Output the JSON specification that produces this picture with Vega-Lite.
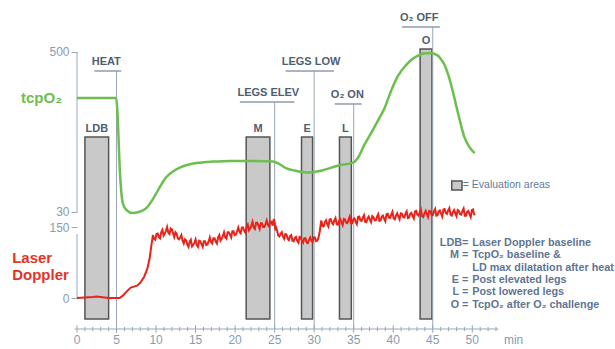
{
  "$schema": "https://vega.github.io/schema/vega-lite/v6.json",
  "width": 419,
  "height": 319,
  "autosize": {"type": "none"},
  "padding": {"left": 77, "top": 10, "right": 119, "bottom": 20},
  "background": "white",
  "config": {"view": {"stroke": null}, "font": "Liberation Sans", "axis": {"grid": false}},
  "datasets": {
    "tcp": [
      {"t":0,"v":365},{"t":4.95,"v":365},{"t":5.1,"v":330},{"t":5.25,"v":250},{"t":5.4,"v":160},{"t":5.6,"v":90},{"t":5.8,"v":55},{"t":6.3,"v":35},{"t":7.0,"v":27},{"t":7.8,"v":30},{"t":8.8,"v":42},{"t":9.6,"v":68},{"t":10.4,"v":100},{"t":11.2,"v":130},{"t":12.1,"v":148},{"t":13.0,"v":160},{"t":13.9,"v":168},{"t":15.5,"v":175},{"t":17.2,"v":178},{"t":19.5,"v":180},{"t":22,"v":180},{"t":24.8,"v":178},{"t":25.5,"v":172},{"t":26.5,"v":158},{"t":27.5,"v":152},{"t":29.4,"v":146},{"t":31,"v":152},{"t":33,"v":166},{"t":35,"v":176},{"t":35.5,"v":188},{"t":36.3,"v":225},{"t":37.2,"v":262},{"t":38.1,"v":300},{"t":38.9,"v":335},{"t":39.8,"v":390},{"t":40.6,"v":430},{"t":41.5,"v":458},{"t":42.3,"v":477},{"t":43.2,"v":490},{"t":44.0,"v":496},{"t":44.8,"v":496},{"t":45.6,"v":490},{"t":46.0,"v":480},{"t":46.5,"v":462},{"t":47.0,"v":430},{"t":47.4,"v":397},{"t":48.2,"v":320},{"t":49.0,"v":250},{"t":49.6,"v":222},{"t":50.3,"v":203}
    ],
    "ld": [
      {"t":0,"v":0},{"t":1,"v":1},{"t":2,"v":2},{"t":2.5,"v":3},{"t":3,"v":2},{"t":4,"v":0},{"t":5,"v":0},{"t":5.4,"v":0},{"t":5.8,"v":5},{"t":6.3,"v":14},{"t":6.8,"v":22},{"t":7.2,"v":24},{"t":7.6,"v":26},{"t":8.0,"v":32},{"t":8.5,"v":45},{"t":8.9,"v":62},{"t":9.2,"v":85},{"t":9.4,"v":110},
      {"t":9.6,"v":133},{"t":9.75,"v":125},{"t":9.9,"v":123},{"t":10.05,"v":135},{"t":10.2,"v":136},{"t":10.35,"v":129},{"t":10.5,"v":126},{"t":10.65,"v":139},{"t":10.8,"v":144},{"t":10.95,"v":132},{"t":11.1,"v":136},{"t":11.25,"v":142},{"t":11.4,"v":150},{"t":11.55,"v":138},{"t":11.7,"v":135},{"t":11.85,"v":147},{"t":12.0,"v":145},{"t":12.15,"v":137},{"t":12.3,"v":129},{"t":12.45,"v":139},{"t":12.6,"v":136},{"t":12.75,"v":126},{"t":12.9,"v":124},{"t":13.05,"v":128},{"t":13.2,"v":133},{"t":13.35,"v":121},{"t":13.5,"v":115},{"t":13.65,"v":124},{"t":13.8,"v":122},{"t":13.95,"v":113},{"t":14.1,"v":108},{"t":14.25,"v":119},{"t":14.4,"v":123},{"t":14.55,"v":109},{"t":14.7,"v":112},{"t":14.85,"v":117},{"t":15.0,"v":124},{"t":15.15,"v":112},{"t":15.3,"v":108},{"t":15.45,"v":121},{"t":15.6,"v":120},{"t":15.75,"v":114},{"t":15.9,"v":108},{"t":16.05,"v":120},{"t":16.2,"v":120},{"t":16.35,"v":112},{"t":16.5,"v":113},{"t":16.65,"v":120},{"t":16.8,"v":128},{"t":16.95,"v":118},{"t":17.1,"v":115},{"t":17.25,"v":126},{"t":17.4,"v":126},{"t":17.55,"v":119},{"t":17.7,"v":115},{"t":17.85,"v":128},{"t":18.0,"v":133},{"t":18.15,"v":121},{"t":18.3,"v":125},{"t":18.45,"v":131},{"t":18.6,"v":139},{"t":18.75,"v":128},{"t":18.9,"v":125},{"t":19.05,"v":139},{"t":19.2,"v":139},{"t":19.35,"v":134},{"t":19.5,"v":128},{"t":19.65,"v":141},{"t":19.8,"v":141},{"t":19.95,"v":133},{"t":20.1,"v":134},{"t":20.25,"v":141},{"t":20.4,"v":149},{"t":20.55,"v":140},{"t":20.7,"v":137},{"t":20.85,"v":149},{"t":21.0,"v":149},{"t":21.15,"v":142},{"t":21.3,"v":138},{"t":21.45,"v":150},{"t":21.6,"v":155},{"t":21.75,"v":143},{"t":21.9,"v":147},{"t":22.05,"v":153},{"t":22.2,"v":161},{"t":22.35,"v":149},{"t":22.5,"v":146},{"t":22.65,"v":159},{"t":22.8,"v":159},{"t":22.95,"v":153},{"t":23.1,"v":146},{"t":23.25,"v":158},{"t":23.4,"v":158},{"t":23.55,"v":150},{"t":23.7,"v":150},{"t":23.85,"v":156},{"t":24.0,"v":164},{"t":24.15,"v":154},{"t":24.3,"v":151},{"t":24.45,"v":162},{"t":24.6,"v":161},{"t":24.75,"v":153},{"t":24.9,"v":167},{"t":25.0,"v":160},{"t":25.1,"v":143},{"t":25.2,"v":148},{"t":25.3,"v":143},{"t":25.45,"v":132},{"t":25.6,"v":130},{"t":25.75,"v":135},{"t":25.9,"v":139},{"t":26.05,"v":130},{"t":26.2,"v":125},{"t":26.35,"v":135},{"t":26.5,"v":134},{"t":26.65,"v":125},{"t":26.8,"v":122},{"t":26.95,"v":131},{"t":27.1,"v":133},{"t":27.25,"v":121},{"t":27.4,"v":120},{"t":27.55,"v":127},{"t":27.7,"v":129},{"t":27.85,"v":121},{"t":28.0,"v":117},{"t":28.15,"v":129},{"t":28.3,"v":128},{"t":28.45,"v":121},{"t":28.6,"v":117},{"t":28.75,"v":126},{"t":28.9,"v":126},{"t":29.05,"v":117},{"t":29.2,"v":116},{"t":29.35,"v":123},{"t":29.5,"v":128},{"t":29.65,"v":121},{"t":29.8,"v":118},{"t":29.95,"v":128},{"t":30.1,"v":128},{"t":30.25,"v":120},{"t":30.4,"v":121},{"t":30.55,"v":128},{"t":30.7,"v":140},{"t":30.8,"v":152},{"t":30.9,"v":164},{"t":31.05,"v":152},{"t":31.2,"v":151},{"t":31.35,"v":160},{"t":31.5,"v":164},{"t":31.65,"v":156},{"t":31.8,"v":151},{"t":31.95,"v":166},{"t":32.1,"v":167},{"t":32.25,"v":159},{"t":32.4,"v":156},{"t":32.55,"v":164},{"t":32.7,"v":169},{"t":32.85,"v":156},{"t":33.0,"v":155},{"t":33.15,"v":163},{"t":33.3,"v":167},{"t":33.45,"v":160},{"t":33.6,"v":154},{"t":33.75,"v":167},{"t":33.9,"v":166},{"t":34.05,"v":159},{"t":34.2,"v":158},{"t":34.35,"v":166},{"t":34.5,"v":172},{"t":34.65,"v":158},{"t":34.8,"v":158},{"t":34.95,"v":166},{"t":35.1,"v":168},{"t":35.25,"v":161},{"t":35.4,"v":156},{"t":35.55,"v":171},{"t":35.7,"v":172},{"t":35.85,"v":164},{"t":36.0,"v":163},{"t":36.15,"v":170},{"t":36.3,"v":175},{"t":36.45,"v":161},{"t":36.6,"v":160},{"t":36.75,"v":168},{"t":36.9,"v":172},{"t":37.05,"v":165},{"t":37.2,"v":160},{"t":37.35,"v":173},{"t":37.5,"v":171},{"t":37.65,"v":164},{"t":37.8,"v":164},{"t":37.95,"v":172},{"t":38.1,"v":177},{"t":38.25,"v":163},{"t":38.4,"v":164},{"t":38.55,"v":172},{"t":38.7,"v":174},{"t":38.85,"v":167},{"t":39.0,"v":162},{"t":39.15,"v":177},{"t":39.3,"v":178},{"t":39.45,"v":170},{"t":39.6,"v":169},{"t":39.75,"v":176},{"t":39.9,"v":182},{"t":40.05,"v":168},{"t":40.2,"v":166},{"t":40.35,"v":174},{"t":40.5,"v":179},{"t":40.65,"v":172},{"t":40.8,"v":166},{"t":40.95,"v":179},{"t":41.1,"v":178},{"t":41.25,"v":171},{"t":41.4,"v":170},{"t":41.55,"v":178},{"t":41.7,"v":183},{"t":41.85,"v":169},{"t":42.0,"v":170},{"t":42.15,"v":178},{"t":42.3,"v":180},{"t":42.45,"v":173},{"t":42.6,"v":168},{"t":42.75,"v":183},{"t":42.9,"v":184},{"t":43.05,"v":176},{"t":43.2,"v":174},{"t":43.35,"v":181},{"t":43.5,"v":187},{"t":43.65,"v":173},{"t":43.8,"v":171},{"t":43.95,"v":179},{"t":44.1,"v":184},{"t":44.25,"v":177},{"t":44.4,"v":171},{"t":44.55,"v":184},{"t":44.7,"v":183},{"t":44.85,"v":176},{"t":45.0,"v":175},{"t":45.15,"v":183},{"t":45.3,"v":188},{"t":45.45,"v":174},{"t":45.6,"v":175},{"t":45.75,"v":183},{"t":45.9,"v":185},{"t":46.05,"v":178},{"t":46.2,"v":172},{"t":46.35,"v":187},{"t":46.5,"v":188},{"t":46.65,"v":180},{"t":46.8,"v":178},{"t":46.95,"v":185},{"t":47.1,"v":190},{"t":47.25,"v":176},{"t":47.4,"v":174},{"t":47.55,"v":182},{"t":47.7,"v":186},{"t":47.85,"v":179},{"t":48.0,"v":173},{"t":48.15,"v":186},{"t":48.3,"v":184},{"t":48.45,"v":177},{"t":48.6,"v":176},{"t":48.75,"v":184},{"t":48.9,"v":189},{"t":49.05,"v":174},{"t":49.2,"v":174},{"t":49.35,"v":182},{"t":49.5,"v":184},{"t":49.65,"v":177},{"t":49.8,"v":171},{"t":49.95,"v":186},{"t":50.1,"v":187},{"t":50.2,"v":178},{"t":50.3,"v":175}
    ],
    "bars": [
      {"name":"LDB","t1":1,"t2":4,"mid":2.5,"top":340},
      {"name":"M","t1":21.4,"t2":24.4,"mid":22.9,"top":340},
      {"name":"E","t1":28.4,"t2":29.8,"mid":29.1,"top":340},
      {"name":"L","t1":33.2,"t2":34.7,"mid":33.95,"top":340},
      {"name":"O","t1":43.4,"t2":44.9,"mid":44.15,"top":526}
    ],
    "events": [
      {"name":"HEAT","t":5,"uy":479.6,"u1":2.2,"u2":5.6,"lx":3.7},
      {"name":"LEGS ELEV","t":25,"uy":414.1,"u1":20.6,"u2":27.5,"lx":24.2},
      {"name":"LEGS LOW","t":30,"uy":479.6,"u1":26.4,"u2":32.5,"lx":29.6},
      {"name":"O₂ ON","t":35,"uy":409.9,"u1":32.6,"u2":36.0,"lx":34.2},
      {"name":"O₂ OFF","t":45,"uy":572.5,"u1":41.1,"u2":45.9,"lx":43.3}
    ],
    "legend": [
      {"key":"LDB=","desc":"Laser Doppler baseline","v":116.2},
      {"key":"M =","desc":"TcpO₂ baseline &","v":90.8},
      {"key":"","desc":"LD max dilatation after heat","v":63.4},
      {"key":"E =","desc":"Post elevated legs","v":38},
      {"key":"L =","desc":"Post lowered legs","v":12.7},
      {"key":"O =","desc":"TcpO₂ after O₂ challenge","v":-14.8}
    ],
    "minorTicks": [
      {"t":1},{"t":2},{"t":3},{"t":4},{"t":6},{"t":7},{"t":8},{"t":9},{"t":11},{"t":12},{"t":13},{"t":14},{"t":16},{"t":17},{"t":18},{"t":19},{"t":21},{"t":22},{"t":23},{"t":24},{"t":26},{"t":27},{"t":28},{"t":29},{"t":31},{"t":32},{"t":33},{"t":34},{"t":36},{"t":37},{"t":38},{"t":39},{"t":41},{"t":42},{"t":43},{"t":44},{"t":46},{"t":47},{"t":48},{"t":49},{"t":51},{"t":52},{"t":53}
    ],
    "majorTicks": [
      {"t":0,"label":"0"},{"t":5,"label":"5"},{"t":10,"label":"10"},{"t":15,"label":"15"},{"t":20,"label":"20"},{"t":25,"label":"25"},{"t":30,"label":"30"},{"t":35,"label":"35"},{"t":40,"label":"40"},{"t":45,"label":"45"},{"t":50,"label":"50"}
    ]
  },
  "layer": [
    {
      "layer": [
        {
          "data": {"name": "bars"},
          "mark": {"type": "rect", "fill": "#c9c9c9", "stroke": "#555555", "strokeWidth": 1.5},
          "encoding": {
            "x": {"field": "t1", "type": "quantitative", "scale": {"domain": [0, 53], "nice": false, "zero": false}, "axis": null},
            "x2": {"field": "t2"},
            "y": {"field": "top", "type": "quantitative", "scale": {"domain": [-65.49, 608.45], "nice": false, "zero": false},
              "axis": {"values": [0, 150], "orient": "left", "domain": false, "title": null, "tickSize": 6, "tickColor": "#9aa6b6", "labelColor": "#8a9bb0", "labelFontSize": 12, "labelPadding": 2}},
            "y2": {"datum": -44.4}
          }
        },
        {
          "data": {"name": "bars"},
          "mark": {"type": "text", "fontWeight": "bold", "fontSize": 11, "color": "#4e5f72", "baseline": "alphabetic", "dy": -5},
          "encoding": {
            "x": {"field": "mid", "type": "quantitative", "axis": null},
            "y": {"field": "top", "type": "quantitative"},
            "text": {"field": "name"}
          }
        },
        {
          "data": {"name": "events"},
          "mark": {"type": "rule", "color": "#9aa6b6", "strokeWidth": 1},
          "encoding": {
            "x": {"field": "t", "type": "quantitative", "axis": null},
            "y": {"field": "uy", "type": "quantitative"},
            "y2": {"datum": -65.49}
          }
        },
        {
          "data": {"name": "events"},
          "mark": {"type": "rule", "color": "#8f9cad", "strokeWidth": 1.5},
          "encoding": {
            "x": {"field": "u1", "type": "quantitative", "axis": null},
            "x2": {"field": "u2"},
            "y": {"field": "uy", "type": "quantitative"}
          }
        },
        {
          "data": {"name": "events"},
          "mark": {"type": "text", "fontWeight": "bold", "fontSize": 11, "color": "#4e5f72", "baseline": "alphabetic", "dy": -6},
          "encoding": {
            "x": {"field": "lx", "type": "quantitative", "axis": null},
            "y": {"field": "uy", "type": "quantitative"},
            "text": {"field": "name"}
          }
        },
        {
          "data": {"values": [{"a": 0}]},
          "mark": {"type": "rule", "color": "#9aa6b6", "strokeWidth": 1},
          "encoding": {"x": {"datum": 0, "axis": null}, "y": {"datum": 135}, "y2": {"datum": 0}}
        },
        {
          "data": {"values": [{"a": 0}]},
          "mark": {"type": "rule", "color": "#9aa6b6", "strokeWidth": 1},
          "encoding": {"x": {"datum": -0.3, "axis": null}, "x2": {"datum": 53.3}, "y": {"datum": -65.49}}
        },
        {
          "data": {"name": "minorTicks"},
          "mark": {"type": "rule", "color": "#9aa6b6", "strokeWidth": 1},
          "encoding": {"x": {"field": "t", "type": "quantitative", "axis": null}, "y": {"datum": -70.0}, "y2": {"datum": -61.0}}
        },
        {
          "data": {"name": "majorTicks"},
          "mark": {"type": "rule", "color": "#9aa6b6", "strokeWidth": 1},
          "encoding": {"x": {"field": "t", "type": "quantitative", "axis": null}, "y": {"datum": -73.5}, "y2": {"datum": -57.5}}
        },
        {
          "data": {"name": "majorTicks"},
          "mark": {"type": "text", "fontSize": 12, "color": "#8a9bb0", "align": "center", "baseline": "middle", "dy": 11},
          "encoding": {"x": {"field": "t", "type": "quantitative", "axis": null}, "y": {"datum": -65.49}, "text": {"field": "label"}}
        },
        {
          "data": {"values": [{"a": 0}]},
          "mark": {"type": "rect", "fill": "#c9c9c9", "stroke": "#555555", "strokeWidth": 1.5},
          "encoding": {"x": {"datum": 47.4, "axis": null}, "x2": {"datum": 48.7}, "y": {"datum": 247}, "y2": {"datum": 228}}
        },
        {
          "data": {"values": [{"label": "= Evaluation areas"}]},
          "mark": {"type": "text", "fontSize": 10.5, "color": "#62799a", "align": "left", "baseline": "middle"},
          "encoding": {"x": {"datum": 48.8, "axis": null}, "y": {"datum": 238.7}, "text": {"field": "label"}}
        },
        {
          "data": {"name": "legend"},
          "mark": {"type": "text", "fontSize": 10.8, "fontWeight": "bold", "color": "#5f7593", "align": "right", "baseline": "middle"},
          "encoding": {"x": {"datum": 49.5, "axis": null}, "y": {"field": "v", "type": "quantitative"}, "text": {"field": "key"}}
        },
        {
          "data": {"name": "legend"},
          "mark": {"type": "text", "fontSize": 10.8, "fontWeight": "bold", "color": "#5f7593", "align": "left", "baseline": "middle"},
          "encoding": {"x": {"datum": 50.0, "axis": null}, "y": {"field": "v", "type": "quantitative"}, "text": {"field": "desc"}}
        },
        {
          "data": {"values": [{"label": "tcpO₂"}]},
          "mark": {"type": "text", "fontSize": 15, "fontWeight": "bold", "color": "#6cbf4e", "align": "center", "baseline": "middle"},
          "encoding": {"x": {"datum": -4.5, "axis": null}, "y": {"datum": 422.5}, "text": {"field": "label"}}
        },
        {
          "data": {"values": [{"label": "Laser", "v": 84.5}, {"label": "Doppler", "v": 48.6}]},
          "mark": {"type": "text", "fontSize": 15, "fontWeight": "bold", "color": "#e5332a", "align": "left", "baseline": "middle"},
          "encoding": {"x": {"datum": -8.2, "axis": null}, "y": {"field": "v", "type": "quantitative"}, "text": {"field": "label"}}
        },
        {
          "data": {"values": [{"label": "min"}]},
          "mark": {"type": "text", "fontSize": 12, "color": "#8a9bb0", "align": "left", "baseline": "middle"},
          "encoding": {"x": {"datum": 54.0, "axis": null}, "y": {"datum": -88.7}, "text": {"field": "label"}}
        }
      ]
    },
    {
      "layer": [
        {
          "data": {"values": [{"a": 0}]},
          "mark": {"type": "rule", "color": "#9aa6b6", "strokeWidth": 1},
          "encoding": {
            "x": {"datum": 0, "axis": null},
            "y": {"datum": 500, "type": "quantitative", "scale": {"domain": [-313.69, 623.375], "nice": false, "zero": false},
              "axis": {"values": [30, 500], "orient": "left", "domain": false, "title": null, "tickSize": 6, "tickColor": "#9aa6b6", "labelColor": "#8a9bb0", "labelFontSize": 12, "labelPadding": 2}},
            "y2": {"datum": 30}
          }
        },
        {
          "data": {"name": "tcp"},
          "mark": {"type": "line", "color": "#6cbf4e", "strokeWidth": 2.5, "interpolate": "monotone"},
          "encoding": {
            "x": {"field": "t", "type": "quantitative", "axis": null},
            "y": {"field": "v", "type": "quantitative"}
          }
        }
      ]
    },
    {
      "data": {"name": "ld"},
      "mark": {"type": "line", "color": "#e8231a", "strokeWidth": 2},
      "encoding": {
        "x": {"field": "t", "type": "quantitative", "axis": null},
        "y": {"field": "v", "type": "quantitative", "scale": {"domain": [-65.49, 608.45], "nice": false, "zero": false}, "axis": null}
      }
    }
  ],
  "resolve": {"scale": {"y": "independent"}, "axis": {"y": "independent"}}
}
